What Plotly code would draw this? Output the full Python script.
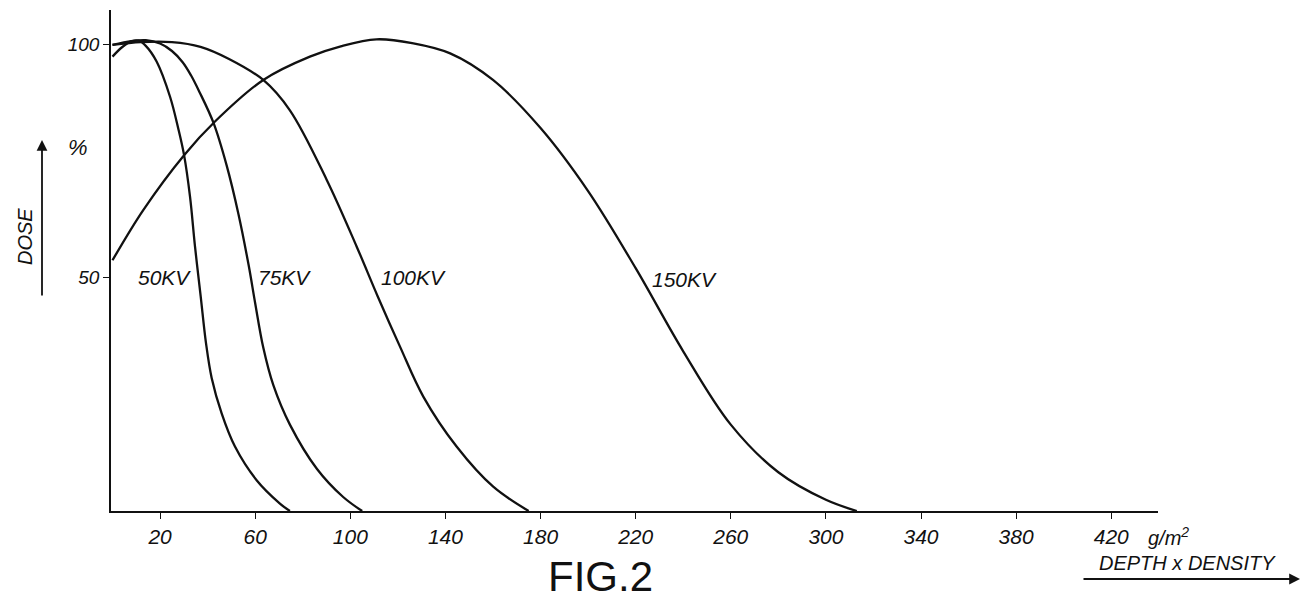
import plotly.graph_objects as go

# ---- data ----
kv50_x = [0, 4, 8, 11, 14, 18.6, 24.2, 27.7, 30.1, 32.6, 34.7, 37.1, 39.3, 41.7, 45.9, 51.5, 60.6, 70.4, 74.6]
kv50_y = [97.3, 99.3, 100.6, 100.7, 99.6, 96.2, 88.7, 81.8, 76.2, 67.3, 56.6, 45.9, 36, 28.5, 20.9, 13.8, 6.6, 1.6, 0]

kv75_x = [0, 8, 14, 20, 25, 29.5, 33, 36.5, 42.4, 48, 53, 57.3, 60, 63.4, 67.6, 74.6, 86, 97, 105]
kv75_y = [99.8, 100.6, 100.8, 100.1, 98.5, 96.1, 93.3, 89.8, 83.2, 74, 63.5, 52.5, 44.5, 35, 27, 18.5, 9, 3, 0]

kv100_x = [0, 12, 25, 37, 49, 63.4, 74.6, 90, 102.7, 111.5, 120.9, 130.7, 144.7, 160.1, 175]
kv100_y = [99.8, 100.4, 100.4, 99.4, 96.8, 92.3, 85.8, 71, 56.6, 46, 35.2, 24.5, 13.8, 5.2, 0]

kv150_x = [0, 13, 30.1, 43.1, 63.4, 83, 96, 111, 126, 142, 160, 180, 200, 220, 240, 260, 280, 300, 313]
kv150_y = [53.7, 64.5, 76.2, 83.4, 92.3, 97.3, 99.5, 101, 100.2, 98, 92.3, 82, 68.5, 52, 34.2, 18.5, 8.3, 2.4, 0]

series_names = ["50KV", "75KV", "100KV", "150KV"]
label_x = [22, 72.5, 126.4, 240.7]
label_y = [49.9, 49.9, 49.9, 49.5]

x_ticks = [20, 60, 100, 140, 180, 220, 260, 300, 340, 380, 420]
y_ticks = [50, 100]

# ---- layout geometry (screen pixels; page body has an 8px margin) ----
OFF = 8
W, H = 1309 - OFF, 600 - OFF
SL, SR, ST, SB = 111, 1158, 10, 511          # plot area on screen
L, R, T, B = SL - OFF, SR - OFF, ST - OFF, SB - OFF


def pp(sx, sy):
    return (sx - SL) / (SR - SL), (SB - sy) / (SB - ST)


ink = "#111111"
hand = "Liberation Sans, Arial, sans-serif"

fig = go.Figure()
for xs, ys, nm in zip([kv50_x, kv75_x, kv100_x, kv150_x],
                      [kv50_y, kv75_y, kv100_y, kv150_y], series_names):
    fig.add_trace(go.Scatter(x=xs, y=ys, mode="lines", name=nm,
                             line=dict(color=ink, width=2.3, shape="spline", smoothing=1.0),
                             hoverinfo="x+y+name"))

annotations = []
for nm, lx, ly in zip(series_names, label_x, label_y):
    annotations.append(dict(x=lx, y=ly, xref="x", yref="y", text=nm, showarrow=False,
                            font=dict(family=hand, size=21, color=ink, style="italic")))


def ann_px(sx, sy, text, size, italic=True, angle=0):
    x, y = pp(sx, sy)
    annotations.append(dict(x=x, y=y, xref="paper", yref="paper", text=text, showarrow=False,
                            xanchor="center", yanchor="middle", textangle=angle,
                            font=dict(family=hand, size=size, color=ink,
                                      style="italic" if italic else "normal")))


ann_px(78, 148, "%", 22)
ann_px(25, 237, "DOSE", 20, angle=-90)
ann_px(1168, 536, "g/m<sup>2</sup>", 20)
ann_px(1187, 563, "DEPTH x DENSITY", 20)
ann_px(600, 576, "FIG.2", 42, italic=False)

# arrows
ax0, ay0 = pp(42, 140)
annotations.append(dict(x=ax0, y=ay0, xref="paper", yref="paper", ax=0, ay=157,
                        axref="pixel", ayref="pixel", text="", showarrow=True,
                        arrowhead=2, arrowsize=1.2, arrowwidth=1.8, arrowcolor=ink))
bx0, by0 = pp(1300, 579)
annotations.append(dict(x=bx0, y=by0, xref="paper", yref="paper", ax=-218, ay=0,
                        axref="pixel", ayref="pixel", text="", showarrow=True,
                        arrowhead=2, arrowsize=1.2, arrowwidth=1.8, arrowcolor=ink))

x_per_px = 1 / 2.378
x0_px = 112.5
y_per_px = 1 / 4.67

fig.update_layout(
    width=W, height=H,
    margin=dict(l=L, r=W - R, t=T, b=H - B, autoexpand=False),
    paper_bgcolor="white", plot_bgcolor="white",
    showlegend=False,
    annotations=annotations,
    xaxis=dict(range=[(SL - x0_px) * x_per_px, (SR - x0_px) * x_per_px],
               tickvals=x_ticks, ticks="outside", ticklen=6, tickwidth=1.4, tickcolor=ink,
               showline=True, linecolor=ink, linewidth=1.6, showgrid=False, zeroline=False,
               tickfont=dict(family=hand, size=21, color=ink, style="italic"),
               automargin=False, fixedrange=True),
    yaxis=dict(range=[0, (SB - ST) * y_per_px],
               tickvals=y_ticks, ticks="outside", ticklen=6, tickwidth=1.4, tickcolor=ink,
               showline=True, linecolor=ink, linewidth=1.6, showgrid=False, zeroline=False,
               tickfont=dict(family=hand, size=19, color=ink, style="italic"),
               automargin=False, fixedrange=True),
)

fig.write_html("out.html")
